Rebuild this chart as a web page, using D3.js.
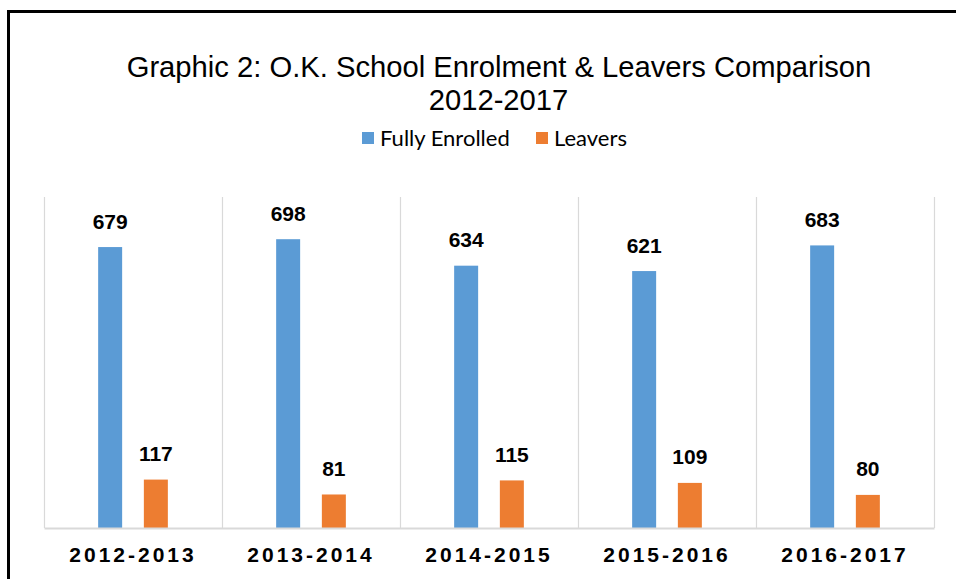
<!DOCTYPE html>
<html>
<head>
<meta charset="utf-8">
<script src="https://cdn.jsdelivr.net/npm/d3@7"></script>
<style>
  html, body { margin: 0; padding: 0; background: #fff; }
  svg { display: block; }
</style>
</head>
<body>
<svg id="chart" width="956" height="579"></svg>
<script>
// School years and the two series per year
const categories = ["2012-2013", "2013-2014", "2014-2015", "2015-2016", "2016-2017"];
const seriesNames = ["Fully Enrolled", "Leavers"];
const fullyEnrolled = [679, 698, 634, 621, 683];
const leavers = [117, 81, 115, 109, 80];
const seriesColors = ["#5B9BD5", "#ED7D31"];
const yMax = 800;

const svg = d3.select("#chart");
const W = 956, H = 579;

// Frame around the chart
svg.append("path")
  .attr("d", `M8.5,${H + 5} L8.5,11.5 L${W + 5},11.5`)
  .attr("fill", "none")
  .attr("stroke", "#000")
  .attr("stroke-width", 3);

// Title
const title = svg.append("text")
  .attr("text-anchor", "middle")
  .attr("font-family", "Liberation Sans, Arial, sans-serif")
  .attr("font-size", 29.2)
  .attr("fill", "#000");
title.append("tspan").attr("x", 499).attr("y", 76.5)
  .text("Graphic 2: O.K. School Enrolment & Leavers Comparison");
title.append("tspan").attr("x", 498.5).attr("y", 110).text("2012-2017");

// Legend
const legendItems = [
  { name: seriesNames[0], color: seriesColors[0], x: 362 },
  { name: seriesNames[1], color: seriesColors[1], x: 536 }
];
const legend = svg.append("g");
legendItems.forEach(it => {
  legend.append("rect")
    .attr("x", it.x).attr("y", 132)
    .attr("width", 12).attr("height", 12)
    .attr("fill", it.color);
  legend.append("text")
    .attr("x", it.x + 18).attr("y", 146)
    .attr("font-family", "Lato, Carlito, Calibri, sans-serif")
    .attr("font-size", 22)
    .attr("fill", "#000")
    .text(it.name);
});

// Plot area
const plot = { left: 44, right: 934, top: 197, bottom: 528 };

const x0 = d3.scaleBand()
  .domain(categories)
  .range([plot.left, plot.right])
  .padding(0);

const x1 = d3.scaleBand()
  .domain(seriesNames)
  .range([0, x0.bandwidth()])
  .paddingInner(0.475)
  .paddingOuter(1.185);

const y = d3.scaleLinear()
  .domain([0, yMax])
  .range([plot.bottom, plot.top]);

// Category separators
const seps = categories.map(c => x0(c)).concat([plot.right]);
svg.append("g").selectAll("line")
  .data(seps)
  .join("line")
  .attr("x1", d => Math.round(d) + 0.5)
  .attr("x2", d => Math.round(d) + 0.5)
  .attr("y1", plot.top)
  .attr("y2", plot.bottom)
  .attr("stroke", "#d9d9d9")
  .attr("stroke-width", 1.2);

// Bars
const rows = categories.map((c, i) => ({
  category: c,
  values: [
    { series: seriesNames[0], value: fullyEnrolled[i], color: seriesColors[0] },
    { series: seriesNames[1], value: leavers[i], color: seriesColors[1] }
  ]
}));

const groups = svg.append("g").selectAll("g")
  .data(rows)
  .join("g")
  .attr("transform", d => `translate(${x0(d.category)},0)`);

groups.selectAll("rect")
  .data(d => d.values)
  .join("rect")
  .attr("x", d => x1(d.series))
  .attr("width", x1.bandwidth())
  .attr("y", d => y(d.value))
  .attr("height", d => y(0) - y(d.value))
  .attr("fill", d => d.color);

// Value labels
groups.selectAll("text")
  .data(d => d.values)
  .join("text")
  .attr("x", d => x1(d.series) + x1.bandwidth() / 2)
  .attr("y", d => y(d.value) - 18.5)
  .attr("text-anchor", "middle")
  .attr("font-family", "Liberation Sans, Arial, sans-serif")
  .attr("font-weight", "bold")
  .attr("font-size", 21)
  .attr("fill", "#000")
  .text(d => d.value);

// Category axis
const xAxis = svg.append("g")
  .attr("transform", `translate(0,${plot.bottom})`)
  .call(d3.axisBottom(x0).tickSize(0).tickPadding(0));
xAxis.select(".domain")
  .attr("stroke", "#d9d9d9")
  .attr("stroke-width", 2);
xAxis.selectAll(".tick text")
  .attr("y", 34)
  .attr("dy", 0)
  .attr("font-family", "Liberation Sans, Arial, sans-serif")
  .attr("font-weight", "bold")
  .attr("font-size", 21)
  .attr("letter-spacing", "3px")
  .attr("fill", "#000");
</script>
</body>
</html>
